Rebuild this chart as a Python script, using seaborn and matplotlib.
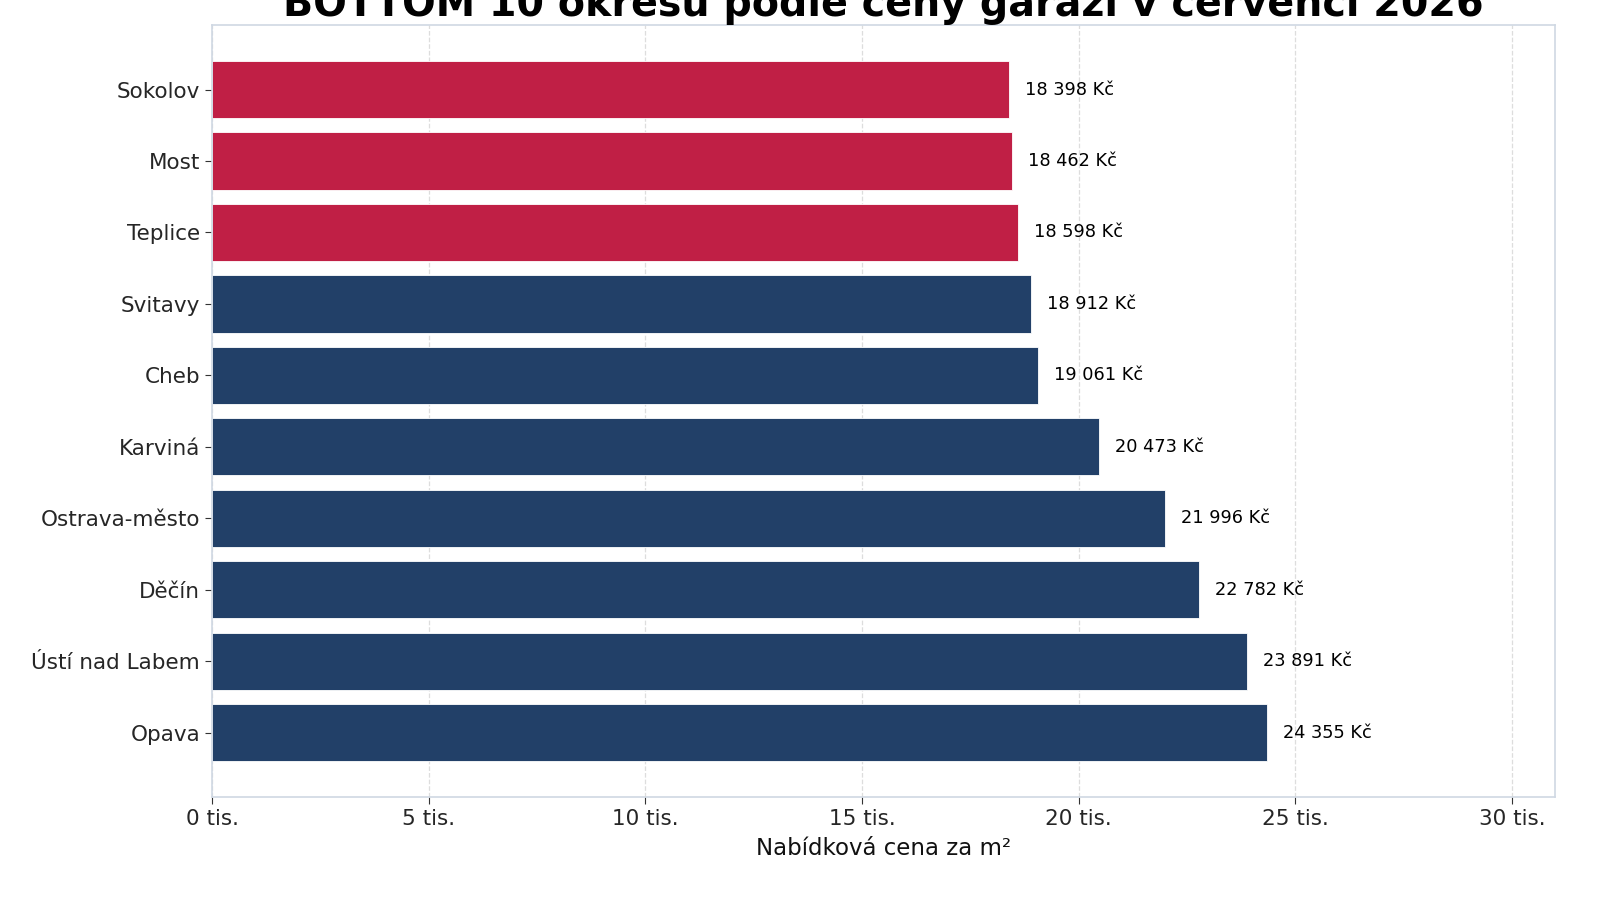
import numpy as np
import pandas as pd
import seaborn as sns
import matplotlib.pyplot as plt
from matplotlib.ticker import FuncFormatter

districts = ['Sokolov', 'Most', 'Teplice', 'Svitavy', 'Cheb', 'Karviná',
             'Ostrava-město', 'Děčín', 'Ústí nad Labem', 'Opava']
prices = [18398, 18462, 18598, 18912, 19061, 20473, 21996, 22782, 23891, 24355]
highlight = [True, True, True, False, False, False, False, False, False, False]

RED = '#C01F45'
NAVY = '#224068'

df = pd.DataFrame({'okres': districts, 'cena': prices})
palette = [RED if h else NAVY for h in highlight]

sns.set_style('ticks')
plt.rcParams['font.family'] = ['DejaVu Sans']

fig, ax = plt.subplots(figsize=(16, 9), dpi=100)
fig.subplots_adjust(left=0.1325, right=0.972, top=0.972, bottom=0.1144)

sns.barplot(data=df, x='cena', y='okres', hue='okres', palette=palette,
            saturation=1, legend=False, width=0.8, edgecolor='white',
            linewidth=0.6, ax=ax)

for i, v in enumerate(prices):
    ax.text(v + 370, i, f'{v:,}'.replace(',', ' ') + ' Kč',
            va='center', ha='left', fontsize=12.8, color='black')

ax.set_xlim(0, 31000)
ax.set_ylim(9.9, -0.9)
ax.set_xticks(np.arange(0, 30001, 5000))
ax.xaxis.set_major_formatter(FuncFormatter(lambda x, p: f'{x / 1000:.0f} tis.'))
ax.grid(axis='x', linestyle='--', color='#dddddd', linewidth=0.9)
ax.set_axisbelow(True)

for s in ax.spines.values():
    s.set_color('#cfd8e3')
    s.set_linewidth(1.2)

ax.tick_params(axis='both', labelsize=15.5, length=5, color='#333333', labelcolor='#262626')
ax.set_ylabel('')
ax.set_xlabel('Nabídková cena za m²', fontsize=16.5, color='#111111', labelpad=6)
ax.set_title('BOTTOM 10 okresů podle ceny garáží v červenci 2026',
             fontsize=28.5, fontweight='bold', color='black')

plt.savefig('out.png', dpi=100)
